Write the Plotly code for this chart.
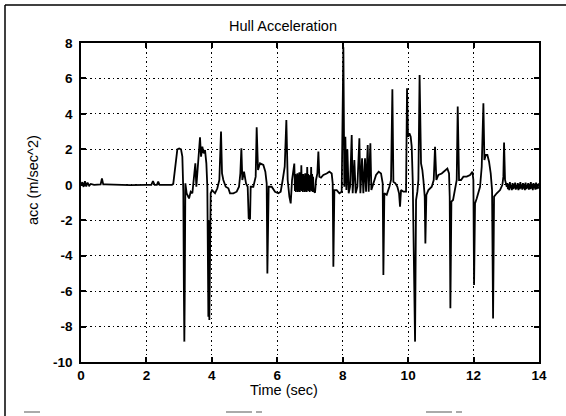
import plotly.graph_objects as go

# ---- data (time in s, acceleration in m/s^2) ----
t_start = [0.0, 0.04, 0.08, 0.12, 0.16, 0.2, 0.25, 0.3, 0.4, 0.6, 0.64, 0.68, 0.75, 1.0, 1.5, 2.0,
           2.15, 2.2, 2.25, 2.32, 2.36, 2.4, 2.6, 2.78]
v_start = [0.0, 0.15, -0.12, 0.2, -0.1, 0.12, -0.05, 0.05, 0.0, 0.02, 0.35, 0.02, 0.02, 0.0, -0.02, 0.0,
           0.0, 0.2, 0.0, 0.0, 0.18, 0.0, 0.0, 0.0]

t_mid1 = [2.82, 2.88, 2.945, 3.0, 3.057, 3.098, 3.128, 3.145, 3.159, 3.17, 3.19, 3.23, 3.302, 3.353,
          3.404, 3.455, 3.495, 3.526, 3.567, 3.607, 3.638, 3.669, 3.709, 3.75, 3.791, 3.832, 3.862,
          3.893, 3.905, 3.923, 3.94, 3.964, 4.005, 4.097, 4.168, 4.229, 4.28, 4.311, 4.351, 4.423,
          4.504, 4.555, 4.657, 4.759, 4.83, 4.871, 4.902, 4.932, 4.983, 5.044, 5.095, 5.126, 5.167,
          5.187, 5.268, 5.34, 5.37, 5.411, 5.472, 5.574, 5.635, 5.676, 5.697, 5.737, 5.829, 5.931,
          6.033, 6.104, 6.165, 6.227, 6.277, 6.318, 6.369, 6.41, 6.451, 6.491, 6.52]
v_mid1 = [0.05, 1.0, 2.0, 2.05, 2.0, 1.59, -0.39, -6.0, -8.85, -6.5, 0.08, -0.48, -0.77, -0.39,
          -0.48, 0.74, 1.21, -0.11, 0.83, 1.68, 2.68, 1.59, 2.15, 1.77, 1.96, 1.21, -0.11,
          -7.44, -2.0, -7.63, -3.0, -0.48, -0.3, -0.48, -0.2, 0.27, 3.0, 0.64, 0.27, -0.11,
          -0.2, -0.48, -0.48, -0.39, -0.11, 0.64, 2.06, 0.27, 0.74, 0.08, -0.11, -1.89, -1.95,
          -0.11, -0.11, 0.46, 3.24, 0.83, 1.21, 1.12, 0.74, 0.08, -5.0, -0.11, -0.11, -0.39,
          -0.48, -0.39, 0.27, 1.02, 3.65, 0.27, -0.67, -1.05, 0.27, 1.02, 1.2]

t_band1 = [6.54, 6.555, 6.57, 6.585, 6.6, 6.615, 6.63, 6.645, 6.66, 6.675, 6.69, 6.705, 6.72, 6.735,
           6.75, 6.765, 6.78, 6.795, 6.81, 6.825, 6.84, 6.855, 6.87, 6.885, 6.9, 6.915, 6.93, 6.945,
           6.96, 6.975, 6.99, 7.005, 7.02, 7.035, 7.05, 7.065, 7.08, 7.095, 7.11]
v_band1 = [-0.35, 0.6, -0.4, 0.55, -0.3, 0.65, -0.4, 0.5, -0.35, 0.7, -0.4, 0.6, -0.3, 1.1,
           -0.35, 0.55, -0.4, 0.6, -0.3, 0.5, -0.4, 0.65, -0.35, 0.55, -0.4, 1.0, -0.3, 0.6,
           -0.35, 0.5, -0.4, 0.55, -0.3, 1.0, -0.35, 0.6, -0.4, 0.45, -0.35]

t_mid2 = [7.154, 7.184, 7.225, 7.256, 7.286, 7.337, 7.408, 7.51, 7.592, 7.663, 7.694, 7.714, 7.745,
          7.816, 7.898, 7.969, 8.02, 8.05, 8.081, 8.112, 8.142, 8.183, 8.224, 8.275, 8.305, 8.356,
          8.397, 8.448, 8.509, 8.54, 8.591, 8.631, 8.682, 8.713, 8.764, 8.794, 8.845, 8.876, 8.937,
          9.019, 9.1, 9.171, 9.222, 9.243, 9.273, 9.345, 9.426, 9.477, 9.518, 9.549, 9.61, 9.671,
          9.722, 9.752, 9.783, 9.854, 9.936, 9.966, 9.997, 10.038, 10.078, 10.109, 10.14, 10.18,
          10.211, 10.242, 10.282, 10.313, 10.35, 10.394, 10.435, 10.466, 10.507, 10.527, 10.557,
          10.619, 10.721, 10.782, 10.822, 10.863, 10.924, 11.026, 11.128, 11.199, 11.25, 11.271,
          11.291, 11.322, 11.373, 11.434, 11.485, 11.515, 11.556, 11.617, 11.689, 11.791, 11.892,
          11.964, 11.994, 12.015, 12.045, 12.096, 12.147, 12.198, 12.249, 12.3, 12.331, 12.371,
          12.422, 12.473, 12.524, 12.565, 12.596, 12.626, 12.708, 12.81, 12.881, 12.911, 12.932,
          12.962, 13.014]
v_mid2 = [-0.45, 0.27, 0.64, 1.87, 0.46, 0.4, 0.55, 0.64, 0.74, 0.64, 0.08, -4.62, -0.3,
          -0.3, -0.48, -0.39, 7.76, -0.11, 2.71, -0.3, 2.0, -0.48, -0.11, 2.81, -0.48, 1.4,
          -0.48, -0.11, 2.62, -0.48, 1.49, -0.48, 1.49, -0.39, 2.24, -0.39, 2.34, -0.3, 0.08,
          0.55, 0.74, 0.64, 0.08, -5.09, -0.48, -0.57, -0.11, 0.27, 5.39, 0.17, 0.08, -0.11,
          -0.48, -1.24, -0.3, -0.39, -0.39, 5.44, 2.71, 2.9, 2.71, 2.15, 0.27, -5.0,
          -8.85, -0.86, -0.39, 0.27, 6.19, 1.2, 0.83, 0.27, -0.67, -3.31, -0.57,
          -0.3, -0.11, 0.27, 2.15, 0.27, 0.55, 0.64, 0.83, 0.92, 0.64, -0.67,
          -6.97, -0.95, -0.86, -0.3, 0.27, 4.41, 0.27, 0.27, 0.46, 0.46, 0.55,
          0.74, 0.27, -5.66, -1.05, -0.77, -0.48, -0.11, 1.02, 4.6, 1.4, 1.68,
          1.68, 1.3, 0.64, -0.3, -7.54, -0.67, -0.48, -0.3, 0.0, 0.46, 2.38,
          0.27, -0.11]

t_band2 = [13.03, 13.05, 13.07, 13.09, 13.11, 13.13, 13.15, 13.17, 13.19, 13.21, 13.23, 13.25, 13.27,
           13.29, 13.31, 13.33, 13.35, 13.37, 13.39, 13.41, 13.43, 13.45, 13.47, 13.49, 13.51, 13.53,
           13.55, 13.57, 13.59, 13.61, 13.63, 13.65, 13.67, 13.69, 13.71, 13.73, 13.75, 13.77, 13.79,
           13.81, 13.83, 13.85, 13.87, 13.89, 13.91, 13.93, 13.95, 13.97, 13.99, 14.0]
v_band2 = [0.1, -0.25, 0.05, -0.3, 0.15, -0.2, 0.0, -0.3, 0.1, -0.25, 0.05, -0.2, 0.12,
           -0.28, 0.0, -0.22, 0.1, -0.3, 0.05, -0.25, 0.15, -0.2, 0.02, -0.28, 0.1, -0.22,
           0.05, -0.3, 0.12, -0.25, 0.0, -0.2, 0.1, -0.28, 0.05, -0.25, 0.15, -0.22, 0.02,
           -0.3, 0.1, -0.2, 0.05, -0.28, 0.12, -0.25, 0.0, -0.22, 0.08, -0.1]

x_ticks = [0, 2, 4, 6, 8, 10, 12, 14]
y_ticks = [-10, -8, -6, -4, -2, 0, 2, 4, 6, 8]

t_all = t_start + t_mid1 + t_band1 + t_mid2 + t_band2
v_all = v_start + v_mid1 + v_band1 + v_mid2 + v_band2

# ---- layout geometry (pixels) ----
W, H = 566, 416
L, R, T, B = 81, 539, 43, 362
pw, ph = R - L, B - T

def px(x):
    return (x - L) / pw

def py(y):
    return (B - y) / ph

FONT = "Liberation Sans, Arial, Helvetica, sans-serif"

fig = go.Figure()
fig.add_trace(go.Scatter(x=t_all, y=v_all, mode="lines",
                         line=dict(color="black", width=1.8), hoverinfo="skip",
                         showlegend=False))

axis_common = dict(
    showline=True, linecolor="black", linewidth=1.5, mirror="allticks",
    ticks="inside", ticklen=5, tickwidth=1.5, tickcolor="black",
    showgrid=True, gridcolor="black", gridwidth=1, griddash="1.5px,3px",
    zeroline=False, automargin=False,
    tickfont=dict(family=FONT, size=13.5, color="black", weight="bold"),
)

fig.update_xaxes(range=[0, 14], tickvals=x_ticks, ticktext=[str(v) for v in x_ticks],
                 **axis_common)
fig.update_yaxes(range=[-10, 8], tickvals=y_ticks, ticktext=[str(v) for v in y_ticks],
                 ticklabelstandoff=4, **axis_common)

annotations = [
    dict(text="Hull Acceleration", x=px(283), y=py(26), xref="paper", yref="paper",
         showarrow=False, font=dict(family=FONT, size=14.5, color="black"),
         xanchor="center", yanchor="middle"),
    dict(text="Time (sec)", x=px(284), y=py(390), xref="paper", yref="paper",
         showarrow=False, font=dict(family=FONT, size=14.5, color="black"),
         xanchor="center", yanchor="middle"),
    dict(text="acc (m/sec^2)", x=px(33), y=py(180), xref="paper", yref="paper",
         showarrow=False, textangle=-90, font=dict(family=FONT, size=14.5, color="black"),
         xanchor="center", yanchor="middle"),
]

frame = dict(type="line", xref="paper", yref="paper", line=dict(color="black", width=1.5))
scan = dict(type="line", xref="paper", yref="paper", line=dict(color="#aaaaaa", width=2))
shapes = [
    dict(frame, x0=px(5), x1=px(5), y0=py(5), y1=py(416)),
    dict(frame, x0=px(5), x1=px(566), y0=py(5), y1=py(5)),
    dict(scan, x0=px(24), x1=px(40), y0=py(412), y1=py(412)),
    dict(scan, x0=px(226), x1=px(252), y0=py(412), y1=py(412)),
    dict(scan, x0=px(256), x1=px(262), y0=py(412), y1=py(412)),
    dict(scan, x0=px(426), x1=px(452), y0=py(412), y1=py(412)),
    dict(scan, x0=px(456), x1=px(462), y0=py(412), y1=py(412)),
]

fig.update_layout(
    template="none",
    width=W, height=H,
    margin=dict(l=L, r=W - R, t=T, b=H - B, pad=0),
    paper_bgcolor="white", plot_bgcolor="white",
    annotations=annotations, shapes=shapes,
    showlegend=False,
)

fig.write_html("out.html")
